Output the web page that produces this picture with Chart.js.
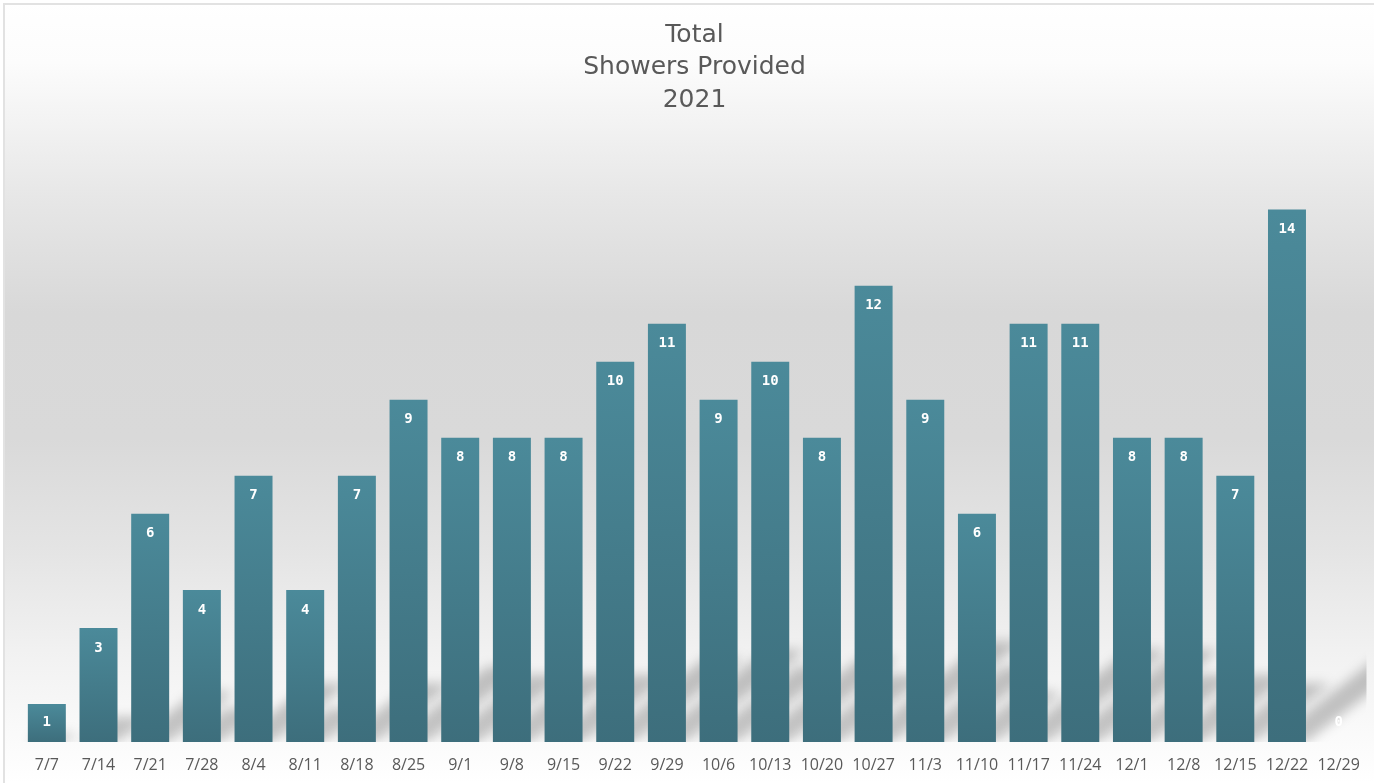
<!DOCTYPE html>
<html>
<head>
<meta charset="utf-8">
<script src="https://cdn.jsdelivr.net/npm/chart.js@4/dist/chart.umd.min.js"></script>
<style>
html,body{margin:0;padding:0;background:#fff;}
#wrap{width:1374px;height:783px;position:relative;}
</style>
</head>
<body>
<div id="wrap"><canvas id="c" width="1374" height="783"></canvas></div>
<script>
const categories = ["7/7","7/14","7/21","7/28","8/4","8/11","8/18","8/25","9/1","9/8","9/15","9/22","9/29","10/6","10/13","10/20","10/27","11/3","11/10","11/17","11/24","12/1","12/8","12/15","12/22","12/29"];
const showers = [1,3,6,4,7,4,7,9,8,8,8,10,11,9,10,8,12,9,6,11,11,8,8,7,14,0];
const titleLines = ["Total","Showers Provided","2021"];

const bgPlugin = {
  id: 'bg',
  beforeDraw(chart) {
    const {ctx, width, height} = chart;
    ctx.save();
    const g = ctx.createLinearGradient(0, 0, 0, height);
    g.addColorStop(0, '#ffffff');
    g.addColorStop(0.08, '#fcfcfc');
    g.addColorStop(0.25, '#e7e7e7');
    g.addColorStop(0.4, '#d8d8d8');
    g.addColorStop(0.56, '#d9d9d9');
    g.addColorStop(0.7, '#e4e4e4');
    g.addColorStop(0.83, '#f1f1f1');
    g.addColorStop(0.95, '#fbfbfb');
    g.addColorStop(1, '#ffffff');
    ctx.fillStyle = g;
    ctx.fillRect(0, 0, width, height);
    ctx.fillStyle = '#ffffff';
    ctx.fillRect(0, 0, width, 4);
    ctx.fillRect(0, 0, 4, height);
    ctx.fillStyle = '#e2e2e2';
    ctx.fillRect(3, 3, width - 3, 2);
    ctx.fillRect(3, 3, 2, height - 3);
    ctx.restore();
  },
  beforeDatasetsDraw(chart) {
    const {ctx, chartArea} = chart;
    const meta = chart.getDatasetMeta(0);
    ctx.save();
    ctx.beginPath();
    ctx.rect(chartArea.left, chartArea.top, chartArea.right - chartArea.left + 2, chartArea.bottom - chartArea.top);
    ctx.clip();
    ctx.filter = 'blur(6px)';
    ctx.fillStyle = 'rgba(0,0,0,0.22)';
    meta.data.forEach(el => {
      const x0 = el.x - el.width / 2, x1 = el.x + el.width / 2;
      const base = el.base, H = base - el.y;
      if (H <= 0) return;
      const hs = 0.22 * H, d = 1.3 * hs;
      ctx.beginPath();
      ctx.moveTo(x0, base);
      ctx.lineTo(x1, base);
      ctx.lineTo(x1 + d, base - hs);
      ctx.lineTo(x0 + d, base - hs);
      ctx.closePath();
      ctx.fill();
    });
    ctx.restore();
  },
  afterDatasetsDraw(chart) {
    const {ctx} = chart;
    const meta = chart.getDatasetMeta(0);
    const data = chart.data.datasets[0].data;
    ctx.save();
    ctx.fillStyle = '#ffffff';
    ctx.font = 'bold 14px "DejaVu Sans Mono"';
    ctx.textAlign = 'center';
    ctx.textBaseline = 'middle';
    meta.data.forEach((el, i) => {
      ctx.fillText(String(data[i]), el.x, Math.min(el.y + 20, el.base - 20));
    });
    ctx.restore();
  }
};

new Chart(document.getElementById('c'), {
  type: 'bar',
  data: {
    labels: categories,
    datasets: [{
      data: showers,
      backgroundColor: (c) => {
        const chart = c.chart;
        const y = chart.scales && chart.scales.y;
        if (!y || !chart.chartArea) return '#45808f';
        const top = y.getPixelForValue(c.raw);
        const bot = y.getPixelForValue(0);
        if (bot - top < 1) return '#45808f';
        const g = chart.ctx.createLinearGradient(0, top, 0, bot);
        g.addColorStop(0, '#4b8a9a');
        g.addColorStop(1, '#3d6e7c');
        return g;
      },
      borderWidth: 0,
      barPercentage: 0.735,
      categoryPercentage: 1.0
    }]
  },
  options: {
    responsive: false,
    animation: false,
    devicePixelRatio: 1,
    layout: { padding: { left: 21, right: 6, top: 0, bottom: 9 } },
    plugins: {
      legend: { display: false },
      tooltip: { enabled: false },
      title: {
        display: true,
        text: titleLines,
        color: '#595959',
        font: { family: '"DejaVu Sans"', size: 25, weight: 'normal', lineHeight: 1.3 },
        padding: { top: 19, bottom: 17 }
      }
    },
    scales: {
      x: {
        grid: { display: false, drawTicks: false },
        border: { display: false },
        afterFit: (axis) => { axis.height = 32; },
        ticks: {
          color: '#595959',
          font: { family: '"Open Sans"', size: 16 },
          padding: 14,
          maxRotation: 0,
          autoSkip: false
        }
      },
      y: {
        display: false,
        min: 0,
        max: 16
      }
    }
  },
  plugins: [bgPlugin]
});
</script>
</body>
</html>
